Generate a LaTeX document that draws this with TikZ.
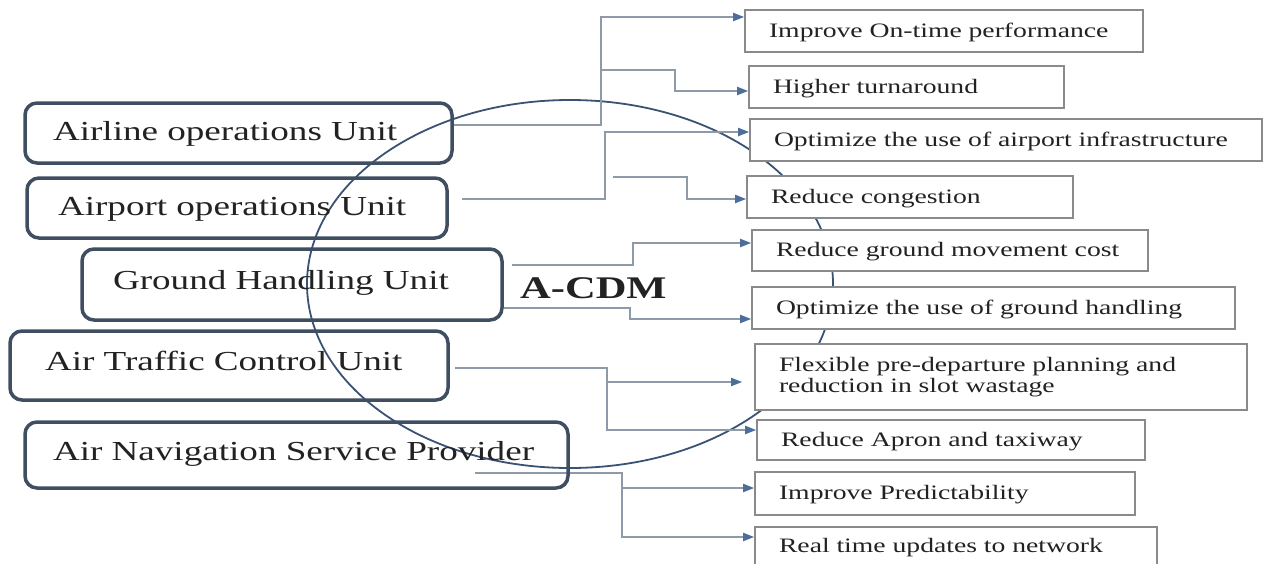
\documentclass[tikz,border=0pt]{standalone}
\usepackage{fontspec}
\setmainfont{Liberation Serif}[FakeStretch=1.35]
\usetikzlibrary{arrows.meta,backgrounds,calc}
\definecolor{leftc}{HTML}{3F4F61}
\definecolor{ringc}{HTML}{3A5273}
\definecolor{linec}{HTML}{8E9AA8}
\definecolor{arrowc}{HTML}{4D6E9B}
\definecolor{rboxc}{HTML}{8A8A8A}
\definecolor{textc}{HTML}{222222}
\newcommand\lfontx{\fontsize{27.5}{31}\selectfont}
\newcommand\rfontx{\fontsize{20.5}{21}\selectfont}
\newcommand\acdmfontx{\fontsize{31.5}{34}\selectfont\bfseries}
\begin{document}
\begin{tikzpicture}[x=1pt,y=-1pt,
  lbox/.style={draw=leftc, line width=3.5pt, rounded corners=12pt, inner ysep=0pt,
    text height=19pt, align=left, font=\lfontx, text=textc},
  rbox/.style={draw=rboxc, line width=1.6pt, fill=white, inner xsep=24pt, inner ysep=0pt,
    align=left, font=\rfontx, text=textc},
  rone/.style={rbox, text height=15pt, text depth=3pt},
  conn/.style={draw=linec, line width=1.8pt},
  arr/.style={-{Triangle[length=11pt,width=8pt,fill=arrowc,color=arrowc]}},
  ring/.style={draw=ringc, line width=1.8pt},
]
\useasboundingbox (0,0) rectangle (1264,563);

% left units
\node[lbox, inner xsep=28pt, text width=371pt, minimum height=60pt, text depth=5pt] (L1) at (238.5,133) {\mbox{Airline operations Unit}};
\node[lbox, inner xsep=31pt, text width=358pt, minimum height=60pt, text depth=5pt] (L2) at (237,208) {\mbox{Airport operations Unit}};
\node[lbox, inner xsep=31pt, text width=358pt, minimum height=71pt, text depth=10pt] (L3) at (292,284.5) {\mbox{Ground Handling Unit}};
\node[lbox, inner xsep=35pt, text width=368pt, minimum height=69pt, text depth=10pt] (L4) at (229,365.5) {\mbox{Air Traffic Control Unit}};
\node[lbox, inner xsep=28pt, text width=487pt, minimum height=66pt, text depth=9pt] (L5) at (296.5,455) {\mbox{Air Navigation Service Provider}};

\node[font=\acdmfontx, anchor=base west, text=textc, inner sep=0pt] (acdm) at (520,298) {A-CDM};

% right benefits
\node[rone, text width=350pt, minimum height=42pt] (R1) at (944,31) {\mbox{Improve On-time performance}};
\node[rone, text width=267pt, minimum height=42pt] (R2) at (906.5,87) {\mbox{Higher turnaround}};
\node[rone, text width=464pt, minimum height=42pt] (R3) at (1006,140) {\mbox{Optimize the use of airport infrastructure}};
\node[rone, text width=278pt, minimum height=42pt] (R4) at (910,197) {\mbox{Reduce congestion}};
\node[rone, text width=348pt, minimum height=41pt] (R5) at (950,250.5) {\mbox{Reduce ground movement cost}};
\node[rone, text width=435pt, minimum height=42pt] (R6) at (993.5,308) {\mbox{Optimize the use of ground handling}};
\node[rbox, text width=444pt, minimum height=66pt] (R7) at (1001,377) {\mbox{Flexible pre-departure planning and}\\\mbox{reduction in slot wastage}};
\node[rone, text width=340pt, minimum height=40pt] (R8) at (951,440) {\mbox{Reduce Apron and taxiway}};
\node[rone, text width=332pt, minimum height=43pt] (R9) at (945,493.5) {\mbox{Improve Predictability}};
\node[rone, text width=354pt, minimum height=38pt] (R10) at (956,546) {\mbox{Real time updates to network}};

\begin{scope}[on background layer]
  \fill[white] (0,0) rectangle (1264,563);
  \draw[ring] (570,284) ellipse [x radius=263, y radius=184];

  \coordinate (j1) at (601,70);
  \coordinate (f4) at (613,177);
  \coordinate (j7) at (607,382);
  \coordinate (s5) at (475,473);
  \coordinate (j9) at (622,488);

  \draw[conn,arr] (L1.east |- 0,125) -- (601,125) -- (601,17) -- (R1.west |- 0,17);
  \draw[conn,arr] (j1) -- (675,70) -- (675,91) -- (R2.west |- 0,91);
  \draw[conn,arr] ($(L2.east |- 0,199)+(13,0)$) -- (605,199) -- (605,132) -- (R3.west |- 0,132);
  \draw[conn,arr] (f4) -- (687,177) -- (687,199) -- (R4.west |- 0,199);
  \draw[conn,arr] ($(L3.east |- 0,265)+(8,0)$) -- (633,265) -- (633,243) -- (R5.west |- 0,243);
  \draw[conn,arr] (L3.east |- 0,308) -- (630,308) -- (630,319) -- (R6.west |- 0,319);
  \draw[conn,arr] ($(L4.east |- 0,368)+(5,0)$) -- (607,368) -- (607,430) -- (R8.west |- 0,430);
  \draw[conn,arr,shorten >=12pt] (j7) -- (R7.west |- 0,382);
  \draw[conn,arr] (s5) -- (622,473) -- (622,537) -- (R10.west |- 0,537);
  \draw[conn,arr] (j9) -- (R9.west |- 0,488);
\end{scope}
\end{tikzpicture}
\end{document}
